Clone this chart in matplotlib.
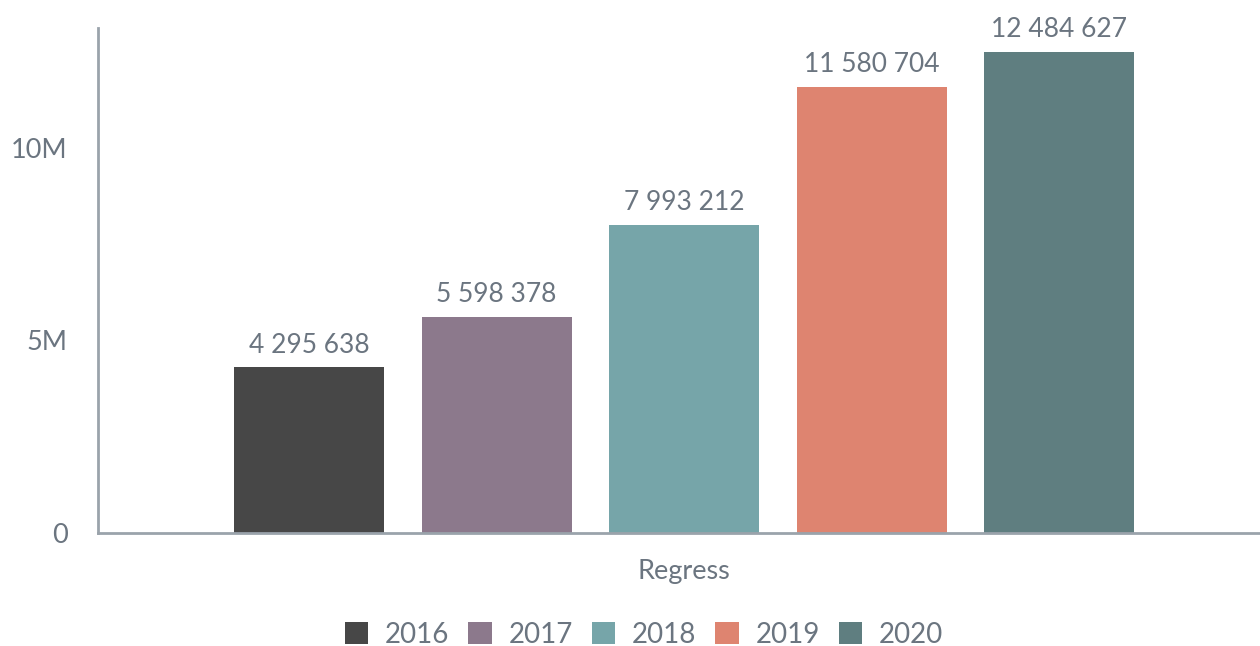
import matplotlib.pyplot as plt
from matplotlib.ticker import FuncFormatter

years = ["2016", "2017", "2018", "2019", "2020"]
values = [4295638, 5598378, 7993212, 11580704, 12484627]
colors = ["#474747", "#8c798c", "#76a5a9", "#de8470", "#5f7e80"]
category = "Regress"

plt.rcParams['font.family'] = ['Lato', 'DejaVu Sans']
txt = "#6b7580"
spine = "#9aa3ab"

fig = plt.figure(figsize=(12.6, 6.46), dpi=100)
ax = fig.add_axes([98/1260, 1 - 533/646, 1 - 98/1260, (533 - 28)/646])

w = 0.8
for i, (y, v, c) in enumerate(zip(years, values, colors)):
    x = i - 2
    ax.bar(x, v, width=w, color=c, label=y)
    ax.annotate(f"{v:,}".replace(",", " "), (x, v), xytext=(0, 7),
                textcoords="offset points", ha="center", va="bottom",
                fontsize=19, color=txt)

ax.set_xlim(-3.125, 3.07)
ax.set_ylim(0, 13.1e6)
ax.set_yticks([0, 5e6, 10e6])
ax.yaxis.set_major_formatter(FuncFormatter(lambda v, p: "0" if v == 0 else f"{v/1e6:.0f}M"))
ax.set_xticks([0])
ax.set_xticklabels([category])
ax.tick_params(axis="both", length=0, labelsize=19.5, labelcolor=txt)
ax.tick_params(axis="y", pad=22)
ax.tick_params(axis="x", pad=19)

for s in ["top", "right"]:
    ax.spines[s].set_visible(False)
for s in ["left", "bottom"]:
    ax.spines[s].set_color(spine)
    ax.spines[s].set_linewidth(2)

fig.legend(loc="center", bbox_to_anchor=(644/1260, 1 - 635/646), ncol=5,
           frameon=False, fontsize=20, labelcolor=txt, handlelength=0.85,
           handleheight=0.85, handletextpad=0.6, columnspacing=0.68)

fig.savefig("out.png", dpi=100)
